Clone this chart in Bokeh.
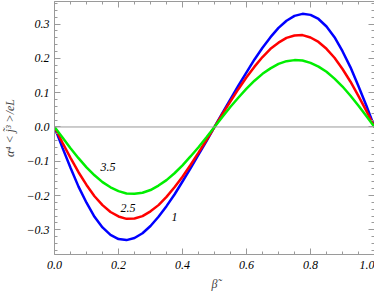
from bokeh.plotting import figure
from bokeh.models import LinearAxis, Span, Range1d, CustomJSTickFormatter, FixedTicker
from bokeh.core.properties import value
from bokeh.embed import file_html
from bokeh.resources import INLINE

beta = [0.0, 0.025, 0.05, 0.075, 0.1, 0.125, 0.15, 0.175, 0.2, 0.225, 0.25,
        0.275, 0.3, 0.325, 0.35, 0.375, 0.4, 0.425, 0.45, 0.475, 0.5,
        0.525, 0.55, 0.575, 0.6, 0.625, 0.65, 0.675, 0.7, 0.725, 0.75,
        0.775, 0.8, 0.825, 0.85, 0.875, 0.9, 0.925, 0.95, 0.975, 1.0]

curve_1 = [0.0, -0.061, -0.119, -0.174, -0.221, -0.262, -0.293, -0.315, -0.327, -0.330, -0.324,
           -0.310, -0.289, -0.262, -0.231, -0.197, -0.159, -0.121, -0.081, -0.041, 0.0,
           0.041, 0.081, 0.121, 0.159, 0.197, 0.231, 0.262, 0.289, 0.310, 0.324,
           0.330, 0.327, 0.315, 0.293, 0.262, 0.221, 0.174, 0.119, 0.061, 0.0]

curve_25 = [0.0, -0.046, -0.090, -0.132, -0.169, -0.202, -0.228, -0.248, -0.261, -0.268, -0.267,
            -0.260, -0.246, -0.228, -0.204, -0.176, -0.145, -0.111, -0.075, -0.038, 0.0,
            0.038, 0.075, 0.111, 0.145, 0.176, 0.204, 0.228, 0.246, 0.260, 0.267,
            0.268, 0.261, 0.248, 0.228, 0.202, 0.169, 0.132, 0.090, 0.046, 0.0]

curve_35 = [0.0, -0.031, -0.062, -0.091, -0.118, -0.141, -0.161, -0.176, -0.187, -0.194, -0.195,
            -0.192, -0.184, -0.171, -0.155, -0.135, -0.112, -0.086, -0.059, -0.030, 0.0,
            0.030, 0.059, 0.086, 0.112, 0.135, 0.155, 0.171, 0.184, 0.192, 0.195,
            0.194, 0.187, 0.176, 0.161, 0.141, 0.118, 0.091, 0.062, 0.031, 0.0]

label_text = ["3.5", "2.5", "1"]
label_x = [0.167, 0.23, 0.375]
label_y = [-0.117, -0.236, -0.262]

x_ticks = [0.0, 0.2, 0.4, 0.6, 0.8, 1.0]
x_minor = [0.05 * i for i in range(21)]
y_ticks = [-0.3, -0.2, -0.1, 0.0, 0.1, 0.2, 0.3]
y_minor = [round(-0.36 + 0.02 * i, 2) for i in range(37)]

FONT = "Liberation Serif"
GRAY = "#9a9a9a"

p = figure(width=374, height=299, output_backend="svg", toolbar_location=None,
           x_range=Range1d(0.0, 1.0), y_range=Range1d(-0.372, 0.366),
           x_axis_label="\u03b2\u0303",
           y_axis_label="\u03b1\u2074 < j\u0303\u00b3 >/eL",
           min_border_left=48, min_border_right=0, min_border_top=1, min_border_bottom=45)
p.grid.visible = False
p.outline_line_color = None
p.background_fill_color = "white"

fmt = CustomJSTickFormatter(code="return tick.toFixed(1).replace('-', '\\u2212');")
blank = CustomJSTickFormatter(code="return '';")

for ax in [p.xaxis[0], p.yaxis[0]]:
    ax.axis_line_color = GRAY
    ax.major_tick_line_color = GRAY
    ax.minor_tick_line_color = GRAY
    ax.major_tick_in = 6
    ax.major_tick_out = 0
    ax.minor_tick_in = 3
    ax.minor_tick_out = 0
    ax.major_label_text_font = FONT
    ax.major_label_text_font_style = "italic"
    ax.major_label_text_font_size = "12px"
    ax.major_label_text_color = "black"
    ax.axis_label_text_font = FONT
    ax.axis_label_text_font_style = "italic"
    ax.axis_label_text_font_size = "12px"
    ax.formatter = fmt

p.xaxis[0].ticker = FixedTicker(ticks=x_ticks, minor_ticks=x_minor)
p.yaxis[0].ticker = FixedTicker(ticks=y_ticks, minor_ticks=y_minor)
p.xaxis[0].major_label_standoff = 6
p.xaxis[0].axis_label_standoff = 5
p.yaxis[0].major_label_standoff = 5
p.yaxis[0].axis_label_standoff = 6

for loc, ticks, minors in [("right", y_ticks, y_minor), ("above", x_ticks, x_minor)]:
    ax = LinearAxis(ticker=FixedTicker(ticks=ticks, minor_ticks=minors), formatter=blank)
    ax.axis_line_color = GRAY
    ax.major_tick_line_color = GRAY
    ax.minor_tick_line_color = GRAY
    ax.major_tick_in = 6
    ax.major_tick_out = 0
    ax.minor_tick_in = 3
    ax.minor_tick_out = 0
    ax.major_label_standoff = 0
    ax.major_label_text_font_size = "1px"
    p.add_layout(ax, loc)

p.add_layout(Span(location=0, dimension="width", line_color=GRAY, line_width=1))

p.line(beta, curve_1, line_color="#0000ff", line_width=2.5)
p.line(beta, curve_25, line_color="#ff0000", line_width=2.5)
p.line(beta, curve_35, line_color="#00ee00", line_width=2.5)

p.text(x=label_x, y=label_y, text=label_text, text_font=value(FONT),
       text_font_style="italic", text_font_size="12px",
       text_align="center", text_baseline="middle", text_color="black")

open("out.html", "w").write(file_html(p, INLINE))
